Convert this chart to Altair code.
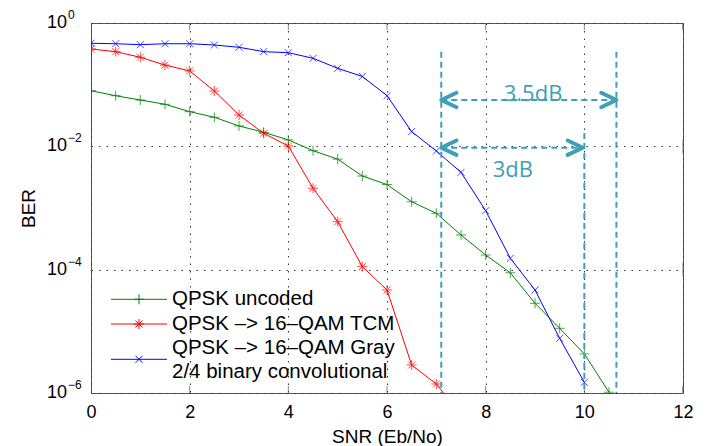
import altair as alt
import pandas as pd

# ---------------- data ----------------
series_names = [
    "QPSK uncoded",
    "QPSK –> 16–QAM TCM",
    "QPSK –> 16–QAM Gray\n2/4 binary convolutional",
]
series_colors = ["#008000", "#ff0000", "#0000ff"]

snr_green = [0, 0.5, 1, 1.5, 2, 2.5, 3, 3.5, 4, 4.5, 5, 5.5, 6, 6.5, 7, 7.5, 8, 8.5, 9, 9.5, 10, 10.5]
ber_green = [0.0798, 0.0662, 0.0564, 0.0481, 0.0365, 0.0296, 0.0214, 0.0169, 0.0127, 0.0085, 0.0062,
             0.0033, 0.0024, 0.00126, 8.2e-4, 3.65e-4, 1.73e-4, 8.9e-5, 2.85e-5, 1.12e-5, 4.3e-6, 1.03e-6]

snr_red = [0, 0.5, 1, 1.5, 2, 2.5, 3, 3.5, 4, 4.5, 5, 5.5, 6, 6.5, 7, 7.5]
ber_red = [0.379, 0.343, 0.278, 0.208, 0.167, 0.0789, 0.0322, 0.0163, 0.0101, 0.00209, 6.0e-4,
           1.12e-4, 4.68e-5, 2.84e-6, 1.40e-6, 4.5e-7]

snr_blue = [0, 0.5, 1, 1.5, 2, 2.5, 3, 3.5, 4, 4.5, 5, 5.5, 6, 6.5, 7, 7.5, 8, 8.5, 9, 9.5, 10]
ber_blue = [0.469, 0.461, 0.445, 0.461, 0.461, 0.44, 0.404, 0.343, 0.330, 0.268, 0.184, 0.136,
            0.0662, 0.0173, 0.0084, 0.00379, 9.04e-4, 1.53e-4, 4.68e-5, 7.7e-6, 1.49e-6]

x_ticks = [0, 2, 4, 6, 8, 10, 12]
y_ticks = [1, 1e-2, 1e-4, 1e-6]
y_exps = ["0", "−2", "−4", "−6"]

# annotation (dB gap) data
vline_x = [7.1, 10.0, 10.65]
vline_top = [0.343, 0.0164, 0.343]
arrow_y = [0.0564, 0.0095]
arrow_start = [7.1, 7.1]
arrow_end = [10.65, 9.97]
ann_text = ["3.5dB", "3dB"]
ann_x = [8.96, 8.55]
ann_y = [0.0706, 0.00413]

# ---------------- styling ----------------
FONT = "Liberation Sans"
TEAL = "#3e9fb5"
PLUS = "M-1,0H1M0,-1V1"
STAR = "M0,-1V1M-1,0H1M-0.7,-0.7L0.7,0.7M-0.7,0.7L0.7,-0.7"
XMARK = "M-0.7,-0.7L0.7,0.7M-0.7,0.7L0.7,-0.7"
shapes = [PLUS, STAR, XMARK]
CHEV_L = "M1.9,-0.9L0,0L1.9,0.9"
CHEV_R = "M-1.9,-0.9L0,0L-1.9,0.9"

rows = []
for name, xs, ys in zip(series_names, [snr_green, snr_red, snr_blue], [ber_green, ber_red, ber_blue]):
    for a, b in zip(xs, ys):
        rows.append({"snr": a, "ber": b, "series": name})
df = pd.DataFrame(rows)

xscale = alt.Scale(domain=[0, 12], nice=False, zero=False)
yscale = alt.Scale(type="log", domain=[1e-6, 1], nice=False)

x_axis = alt.Axis(values=x_ticks, grid=True, gridDash=[1.5, 6], gridColor="#333", gridOpacity=1,
                  ticks=False, domain=False, labelFontSize=18, labelFont=FONT, labelColor="#000",
                  labelPadding=10, labelFlush=False, title="SNR (Eb/No)", titleFont=FONT,
                  titleFontSize=19, titleFontWeight="normal", titleColor="#000", titlePadding=6)
y_axis = alt.Axis(values=y_ticks, grid=True, gridDash=[1.5, 6], gridColor="#333", gridOpacity=1,
                  ticks=False, domain=False, labels=False, title="BER", titleFont=FONT,
                  titleFontSize=19, titleFontWeight="normal", titleColor="#000", titlePadding=53)


def X(field):
    return alt.X(field, scale=xscale, axis=x_axis)


def Y(field):
    return alt.Y(field, scale=yscale, axis=y_axis)


color = alt.Color("series:N", scale=alt.Scale(domain=series_names, range=series_colors), legend=None)
shape = alt.Shape("series:N", scale=alt.Scale(domain=series_names, range=shapes), legend=None)

base = alt.Chart(df).encode(x=X("snr:Q"), y=Y("ber:Q"), color=color)
lines = base.mark_line(clip=True, strokeWidth=1)
points = base.mark_point(clip=True, filled=False, size=100, strokeWidth=1).encode(shape=shape)

# inward frame ticks (clipped to plot)
tick_df_x = pd.DataFrame({"v": x_ticks})
tick_df_y = pd.DataFrame({"v": y_ticks})
tick_layers = []
for yv in [1, 1e-6]:
    tick_layers.append(alt.Chart(tick_df_x).mark_tick(clip=True, color="#555", size=14, thickness=1).encode(
        x=X("v:Q"), y=alt.YDatum(yv, scale=yscale, axis=y_axis)))
for xv in [0, 12]:
    tick_layers.append(alt.Chart(tick_df_y).mark_tick(clip=True, color="#555", size=14, thickness=1).encode(
        y=Y("v:Q"), x=alt.XDatum(xv, scale=xscale, axis=x_axis)))

# y tick labels with superscripts
ytl = pd.DataFrame({"v": y_ticks, "e": y_exps})
ylab10 = alt.Chart(ytl).mark_text(align="right", baseline="middle", fontSize=18, font=FONT, color="#000").encode(
    y=Y("v:Q"), x=alt.value(-24), text=alt.value("10"))
ylabexp = alt.Chart(ytl).mark_text(align="left", baseline="middle", fontSize=12, font=FONT, color="#000", dy=-8).encode(
    y=Y("v:Q"), x=alt.value(-23), text="e:N")

# annotations
vdf = pd.DataFrame({"x": vline_x, "top": vline_top, "bot": [1e-6] * len(vline_x)})
vlines = alt.Chart(vdf).mark_rule(color=TEAL, strokeWidth=2, strokeDash=[6, 4]).encode(
    x=X("x:Q"), y=Y("top:Q"), y2="bot:Q")
adf = pd.DataFrame({"y": arrow_y, "x1": arrow_start, "x2": arrow_end})
hlines = alt.Chart(adf).mark_rule(color=TEAL, strokeWidth=2, strokeDash=[6, 4]).encode(
    x=X("x1:Q"), x2="x2:Q", y=Y("y:Q"))
chev_l = alt.Chart(adf).mark_point(shape=CHEV_L, size=256, filled=False, color=TEAL, strokeWidth=4,
                                   strokeJoin="round", strokeCap="round", opacity=1).encode(
    x=X("x1:Q"), y=Y("y:Q"))
chev_r = alt.Chart(adf).mark_point(shape=CHEV_R, size=256, filled=False, color=TEAL, strokeWidth=4,
                                   strokeJoin="round", strokeCap="round", opacity=1).encode(
    x=X("x2:Q"), y=Y("y:Q"))
tdf = pd.DataFrame({"t": ann_text, "x": ann_x, "y": ann_y})
atext = alt.Chart(tdf).mark_text(font="Open Sans", fontSize=22, color=TEAL, baseline="middle", align="center").encode(
    x=X("x:Q"), y=Y("y:Q"), text="t:N")

# manual legend
leg_rows_y = [276.3, 301, 336.3]
leg_text_y = [276.3, 301, 325]
one = alt.Data(values=[{}])
leg_layers = []
for name, col, shp, yy, ty in zip(series_names, series_colors, shapes, leg_rows_y, leg_text_y):
    leg_layers.append(alt.Chart(one).mark_rule(color=col, strokeWidth=1).encode(
        x=alt.value(20), x2=alt.value(76), y=alt.value(yy)))
    leg_layers.append(alt.Chart(one).mark_point(shape=shp, size=100, filled=False, color=col, strokeWidth=1, opacity=1).encode(
        x=alt.value(48), y=alt.value(yy)))
    leg_layers.append(alt.Chart(one).mark_text(align="left", baseline="middle", fontSize=20.5, font=FONT,
                                               color="#000", lineBreak="\n", lineHeight=24).encode(
        x=alt.value(81), y=alt.value(ty), text=alt.value(name)))

chart = alt.layer(
    lines, points, *tick_layers, ylab10, ylabexp, vlines, hlines, chev_l, chev_r, atext, *leg_layers
).properties(
    width=592, height=370, autosize="none",
    padding={"left": 83, "top": 15, "right": 14, "bottom": 53},
).configure_view(stroke="#555", strokeWidth=1)

chart.save("out.html", embed_options={"renderer": "svg", "actions": False})
